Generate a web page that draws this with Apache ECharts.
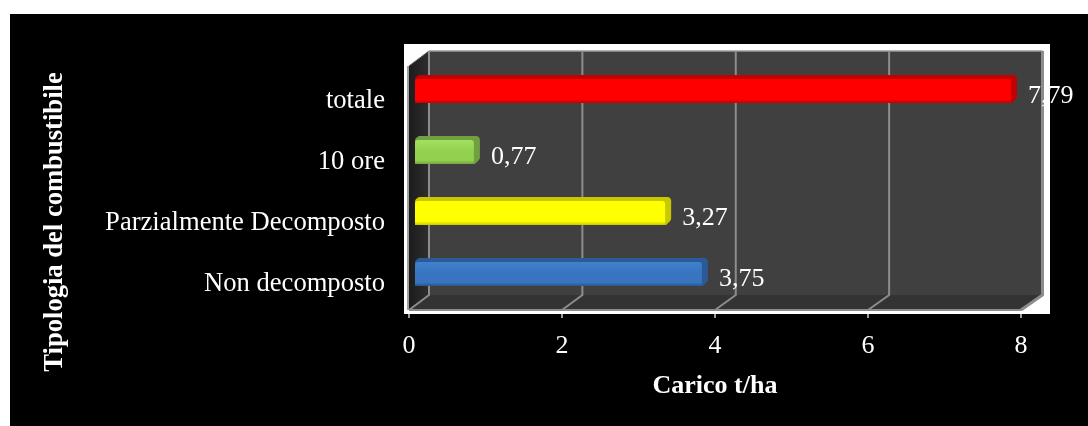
<!DOCTYPE html>
<html>
<head>
<meta charset="utf-8">
<style>html,body{margin:0;padding:0;background:#fff}#chart{width:1088px;height:426px}</style>
<script src="https://cdn.jsdelivr.net/npm/echarts@6/dist/echarts.min.js"></script>
</head>
<body>
<div id="chart"></div>
<script>
// Fuel load by fuel type, bottom category first
const categories = ['Non decomposto', 'Parzialmente Decomposto', '10 ore', 'totale'];
const carico = [3.75, 3.27, 0.77, 7.79];
const xTicks = [0, 2, 4, 6, 8];

// Shading per bar: [top and side, front top, front middle, front bottom]
const barShades = [
  ['#2a5b96', '#4080cc', '#3874c0', '#28578f'],
  ['#c8c800', '#ffff00', '#ffff00', '#c8c800'],
  ['#70a040', '#a4e060', '#92d050', '#74a544'],
  ['#c40000', '#ff0000', '#ff0000', '#c80000']
];

const SERIF = '"Liberation Serif", serif';
const FONT_SIZE = 26;
const CATEGORY_FONT_SIZE = 26.6;
const WALL_DX = 20, WALL_DY = 15;  // depth of the chamber
const WALL_STRETCH = 1.5;          // back wall runs a little wider than the front edge
const BAR_DX = 6, BAR_DEPTH = 6;   // bar inset and extrusion

function renderChamber(params, api) {
  const c = params.coordSys;
  const l = c.x, r = c.x + c.width, t = c.y, b = c.y + c.height;
  const backL = l + WALL_DX, backR = r + WALL_DX + WALL_STRETCH;
  const children = [
    { type: 'rect', shape: { x: l - 5, y: t - 22, width: r - l + 34, height: b - t + 26 }, style: { fill: '#fff' } },
    { type: 'polygon', shape: { points: [[l, t], [backL, t - WALL_DY], [backL, b - WALL_DY], [l, b]] },
      style: { fill: { type: 'linear', x: 0, y: 0, x2: 1, y2: 0, colorStops: [{ offset: 0, color: '#1c1c1c' }, { offset: 1, color: '#2e2e2e' }] } } },
    { type: 'rect', shape: { x: backL, y: t - WALL_DY, width: backR - backL, height: b - t }, style: { fill: '#404040' } },
    { type: 'polygon', shape: { points: [[l, b], [backL, b - WALL_DY], [backR, b - WALL_DY], [r, b]] }, style: { fill: '#333333' } },
    { type: 'line', shape: { x1: backL, y1: t - WALL_DY, x2: backR, y2: t - WALL_DY }, style: { stroke: '#9a9a9a', lineWidth: 1.5 } },
    { type: 'line', shape: { x1: l, y1: b, x2: r, y2: b }, style: { stroke: '#8c8c8c', lineWidth: 2 } },
    { type: 'line', shape: { x1: l - 1, y1: t, x2: l - 1, y2: b }, style: { stroke: '#a0a0a0', lineWidth: 2 } },
    { type: 'line', shape: { x1: l, y1: t, x2: backL, y2: t - WALL_DY }, style: { stroke: '#555', lineWidth: 1 } }
  ];
  xTicks.forEach(function (tick) {
    const x = api.coord([tick, 0])[0];
    const backX = x + WALL_DX + WALL_STRETCH * (tick / xTicks[xTicks.length - 1]);
    const last = tick === xTicks[xTicks.length - 1];
    children.push({ type: 'polyline',
      shape: { points: [[x, b], [backX, b - WALL_DY], [backX, t - WALL_DY]] },
      style: { fill: 'none', stroke: '#8c8c8c', lineWidth: last ? 3 : 2 } });
  });
  return { type: 'group', children: children };
}

function renderBar(params, api) {
  const idx = api.value(1);
  const value = api.value(0);
  const shades = barShades[idx];
  const x0 = api.coord([0, idx])[0] + BAR_DX;
  const x1 = api.coord([value, idx])[0] + BAR_DX;
  const mid = api.coord([0, idx])[1];
  const yt = mid - 21.5, yf = yt + 4, yb = mid + 6.5;
  const xb = x1 + BAR_DEPTH;
  return { type: 'group', children: [
    { type: 'polygon', shape: { points: [[x0, yf], [x0 + 1, yt + 2], [x0 + 4, yt], [xb - 3, yt], [xb - 1, yt + 1], [xb, yt + 3], [xb, yb - 6], [xb - 1, yb - 4], [xb - 5, yb], [x0, yb]] },
      style: { fill: shades[0] } },
    { type: 'rect', shape: { x: x0, y: yf, width: x1 - x0, height: yb - yf, r: 3 },
      style: { fill: { type: 'linear', x: 0, y: 0, x2: 0, y2: 1, colorStops: [
        { offset: 0, color: shades[1] }, { offset: 0.5, color: shades[2] },
        { offset: 0.85, color: shades[2] }, { offset: 1, color: shades[3] } ] } } },
    { type: 'text', style: { text: String(value).replace('.', ','), x: xb + 11, y: mid,
        fill: '#fff', fontFamily: SERIF, fontSize: FONT_SIZE, verticalAlign: 'middle', align: 'left' } }
  ] };
}

const chart = echarts.init(document.getElementById('chart'), null, { renderer: 'canvas' });
chart.setOption({
  animation: false,
  backgroundColor: '#fff',
  graphic: [
    { type: 'rect', z: -10, shape: { x: 10, y: 14, width: 1078, height: 412 }, style: { fill: '#000' } },
    { type: 'text', z: 10, x: 55, y: 222, rotation: Math.PI / 2,
      style: { text: 'Tipologia del combustibile', fill: '#fff', fontFamily: SERIF, fontWeight: 'bold', fontSize: CATEGORY_FONT_SIZE, align: 'center', verticalAlign: 'middle' } }
  ],
  grid: { left: 409, right: 67, top: 66, bottom: 116 },
  xAxis: {
    type: 'value', min: 0, max: 8, interval: 2,
    axisLine: { show: false },
    axisTick: { show: true, length: 8, lineStyle: { color: '#999', width: 2 } },
    splitLine: { show: false },
    axisLabel: { color: '#fff', fontFamily: SERIF, fontSize: FONT_SIZE, margin: 23 },
    name: 'Carico t/ha', nameLocation: 'middle', nameGap: 63,
    nameTextStyle: { color: '#fff', fontFamily: SERIF, fontWeight: 'bold', fontSize: FONT_SIZE }
  },
  yAxis: {
    type: 'category', data: categories,
    axisLine: { show: false }, axisTick: { show: false }, splitLine: { show: false },
    axisLabel: { color: '#fff', fontFamily: SERIF, fontSize: CATEGORY_FONT_SIZE, margin: 24, verticalAlign: 'top', lineHeight: 10 }
  },
  series: [
    { type: 'custom', silent: true, clip: false, z: 1, data: [[0, 0]], renderItem: renderChamber },
    { type: 'custom', silent: true, clip: false, z: 2,
      encode: { x: 0, y: 1 },
      data: carico.map(function (v, i) { return [v, i]; }), renderItem: renderBar }
  ]
});
</script>
</body>
</html>
